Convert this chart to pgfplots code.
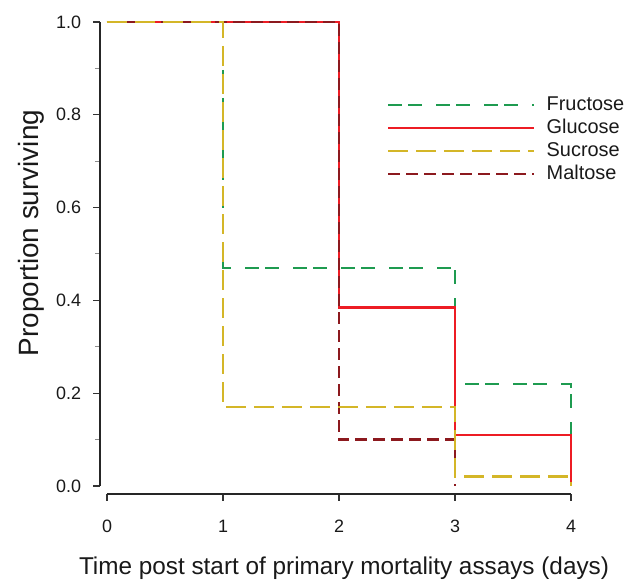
\documentclass[border=0pt]{standalone}
\usepackage{fontspec}
\setmainfont{Liberation Sans}
\usepackage{pgfplots}
\pgfplotsset{compat=1.18}
\definecolor{cfru}{RGB}{30,155,80}
\definecolor{cglu}{RGB}{237,28,36}
\definecolor{csuc}{RGB}{212,182,40}
\definecolor{cmal}{RGB}{140,25,30}
\begin{document}
\begin{tikzpicture}
\useasboundingbox (-107bp,-96bp) rectangle (528bp,486bp);
\begin{axis}[
  at={(0,0)}, anchor=south west,
  scale only axis, width=464bp, height=464bp,
  xmin=0, xmax=4, ymin=0, ymax=1,
  clip=false,
  axis x line*=bottom, axis y line*=left,
  axis x line shift=8bp, axis y line shift=7bp,
  axis line style={line width=1.6bp, black!85},
  xtick={0,1,2,3,4}, ytick={0,0.2,0.4,0.6,0.8,1},
  minor ytick={0.1,0.3,0.5,0.7,0.9},
  tick align=outside,
  major tick length=6.5bp, minor tick length=5bp,
  major tick style={line width=1.2bp, black!80},
  minor tick style={line width=1bp, black!45},
  /pgf/number format/assume math mode=true,
  tick label style={font=\fontsize{18}{20}\selectfont, black!90},
  yticklabel style={xshift=-9bp, /pgf/number format/.cd, fixed, fixed zerofill, precision=1},
  xticklabel style={yshift=-16bp, /pgf/number format/.cd, fixed, precision=0},
  every axis x label/.style={at={(axis description cs:0.5108,-0.1897)}, anchor=base, font=\fontsize{24.4}{27}\selectfont, black!90},
  every axis y label/.style={at={(axis description cs:-0.1466,0.545)}, rotate=90, anchor=base, font=\fontsize{28}{30}\selectfont, black!90},
  xlabel={Time post start of primary mortality assays (days)},
  ylabel={Proportion surviving},
  legend style={at={(axis description cs:0.6034,0.8405)}, anchor=north west,
    draw=none, fill=none, inner sep=0pt, font=\fontsize{20}{22}\selectfont,
    row sep=5bp, nodes={inner sep=0pt, text height=14bp, text depth=4bp, text=black!90},
    /tikz/every odd column/.append style={column sep=11bp}},
  legend cell align=left,
  legend image code/.code={\draw[#1] (0bp,0bp) -- (146bp,0bp);},
]
\addlegendimage{cfru, line width=2.5bp, dash pattern=on 14bp off 6bp on 14bp off 14bp}
\addlegendimage{cglu, line width=2.5bp}
\addlegendimage{csuc, line width=2.5bp, dash pattern=on 20bp off 8bp}
\addlegendimage{cmal, line width=2.5bp, dash pattern=on 12bp off 6bp}
\legend{Fructose, Glucose, Sucrose, Maltose}
\addplot[forget plot, cfru, line width=2.5bp, dash pattern=on 14bp off 6bp on 14bp off 14bp] coordinates {(0,1) (1,1) (1,0.47) (3,0.47) (3,0.22) (4,0.22) (4,0)};
\addplot[forget plot, cglu, line width=2.5bp] coordinates {(0,1) (2,1) (2,0.385) (3,0.385) (3,0.11) (4,0.11) (4,0)};
\addplot[forget plot, cmal, line width=2.5bp, dash pattern=on 12bp off 6bp] coordinates {(0,1) (2,1) (2,0.10) (3,0.10) (3,0)};
\addplot[forget plot, csuc, line width=2.5bp, dash pattern=on 20bp off 8bp] coordinates {(0,1) (1,1) (1,0.17) (3,0.17) (3,0.02) (4,0.02) (4,0)};
\end{axis}
\end{tikzpicture}
\end{document}
